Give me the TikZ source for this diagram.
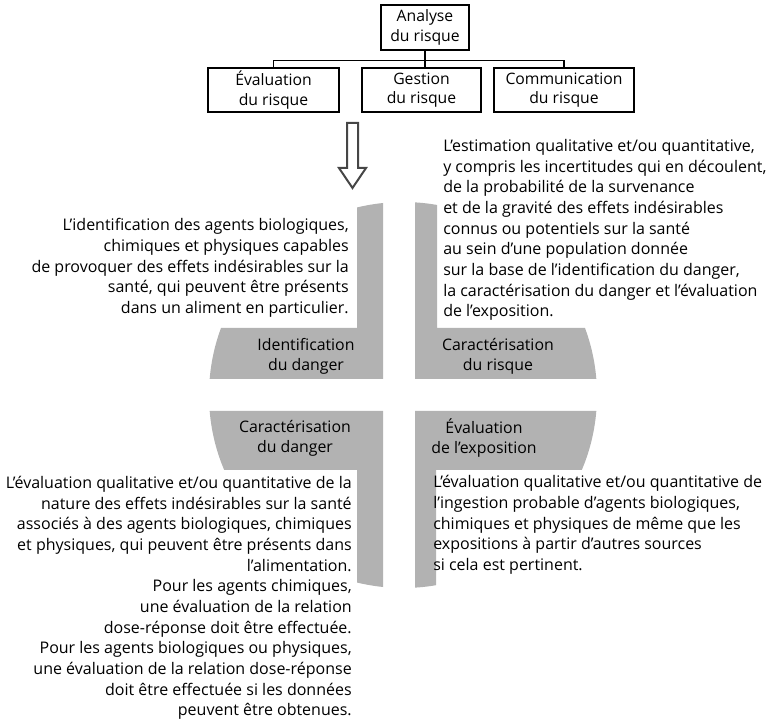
\documentclass[tikz,border=0pt]{standalone}
\usepackage{fontspec}
\setmainfont{Open Sans}
\usepackage{tikz}
\usetikzlibrary{positioning}

\definecolor{quadgray}{RGB}{178,178,178}
\definecolor{arrowgray}{RGB}{70,70,70}

\begin{document}
\begin{tikzpicture}[
    x=0.75pt, y=-0.75pt,
    box/.style={rectangle, draw, line width=1.1pt, align=center, minimum height=33pt, inner sep=1pt, font=\fontsize{11.8}{14.5}\selectfont},
    quad/.style={fill=quadgray},
    label/.style={align=center, inner sep=0pt, font=\fontsize{11.9}{15}\selectfont},
    textl/.style={align=left, inner sep=0pt, anchor=west, font=\fontsize{12}{15.5}\selectfont},
    textr/.style={align=right, inner sep=0pt, anchor=east, font=\fontsize{12}{15.5}\selectfont},
    link/.style={line width=1.1pt},
    hollow/.style={draw=arrowgray, fill=white, line width=1.5pt, line join=miter}
]
\useasboundingbox (0,0) rectangle (769,727);

% Top of the tree
\node[box, minimum width=66pt, minimum height=33.5pt] (analyse) at (425,27.5) {Analyse\\du risque};
\node[box, minimum width=98pt] (evaluation) at (273.5,90) {Évaluation\\du risque};
\node[box, minimum width=89pt] (gestion) at (421.5,90) {Gestion\\du risque};
\node[box, minimum width=105pt] (communication) at (564,90) {Communication\\du risque};

% Tree links
\coordinate (bar) at ([yshift=-7.5pt]analyse.south);
\draw[link] (analyse.south) -- (bar) -| (evaluation.north);
\draw[link] (bar) -| (communication.north);
\draw[link] (bar) -- (bar |- gestion.north);

% Hollow arrow down
\coordinate (arrtop) at (352.5,123);
\draw[hollow] (arrtop) ++(-5.5,0) -- ++(0,45) -- ++(-8,0) -- ++(13.5,20) -- ++(13.5,-20) -- ++(-8,0) -- ++(0,-45) -- cycle;

% Grey quarters of the disc
\begin{scope}
  \clip (403,395) ellipse [x radius=194, y radius=193];
  \fill[quad] (383,150) -- (383,379) -- (150,379) -- (150,328) -- (357,328) -- (357,150) -- cycle;
  \fill[quad] (415,150) -- (415,379) -- (650,379) -- (650,328) -- (437,328) -- (437,150) -- cycle;
  \fill[quad] (383,650) -- (383,411) -- (150,411) -- (150,470) -- (357,470) -- (357,650) -- cycle;
  \fill[quad] (415,650) -- (415,411) -- (650,411) -- (650,470) -- (436,470) -- (436,650) -- cycle;
\end{scope}

% Labels in the quarters
\node[label] (identification) at (306,356) {Identification\\du danger};
\node[label] (caractrisque) at (498,356) {Caractérisation\\du risque};
\node[label] (caractdanger) at (295,438) {Caractérisation\\du danger};
\node[label] (exposition) at (484,438) {Évaluation\\de l’exposition};

% Definitions
\node[textr] (defidentification) at (349,268) {L’identification des agents biologiques,\\chimiques et physiques capables\\de provoquer des effets indésirables sur la\\santé, qui peuvent être présents\\dans un aliment en particulier.};
\node[textl] (defrisque) at (443,230) {L’estimation qualitative et/ou quantitative,\\y compris les incertitudes qui en découlent,\\de la probabilité de la survenance\\et de la gravité des effets indésirables\\connus ou potentiels sur la santé\\au sein d’une population donnée\\sur la base de l’identification du danger,\\la caractérisation du danger et l’évaluation\\de l’exposition.};
\node[textr] (defdanger) at (352,598) {L’évaluation qualitative et/ou quantitative de la\\nature des effets indésirables sur la santé\\associés à des agents biologiques, chimiques\\et physiques, qui peuvent être présents dans\\l’alimentation.\\Pour les agents chimiques,\\une évaluation de la relation\\dose-réponse doit être effectuée.\\Pour les agents biologiques ou physiques,\\une évaluation de la relation dose-réponse\\doit être effectuée si les données\\peuvent être obtenues.};
\node[textl] (defexposition) at (433,525) {L’évaluation qualitative et/ou quantitative de\\l’ingestion probable d’agents biologiques,\\chimiques et physiques de même que les\\expositions à partir d’autres sources\\si cela est pertinent.};

\end{tikzpicture}
\end{document}
